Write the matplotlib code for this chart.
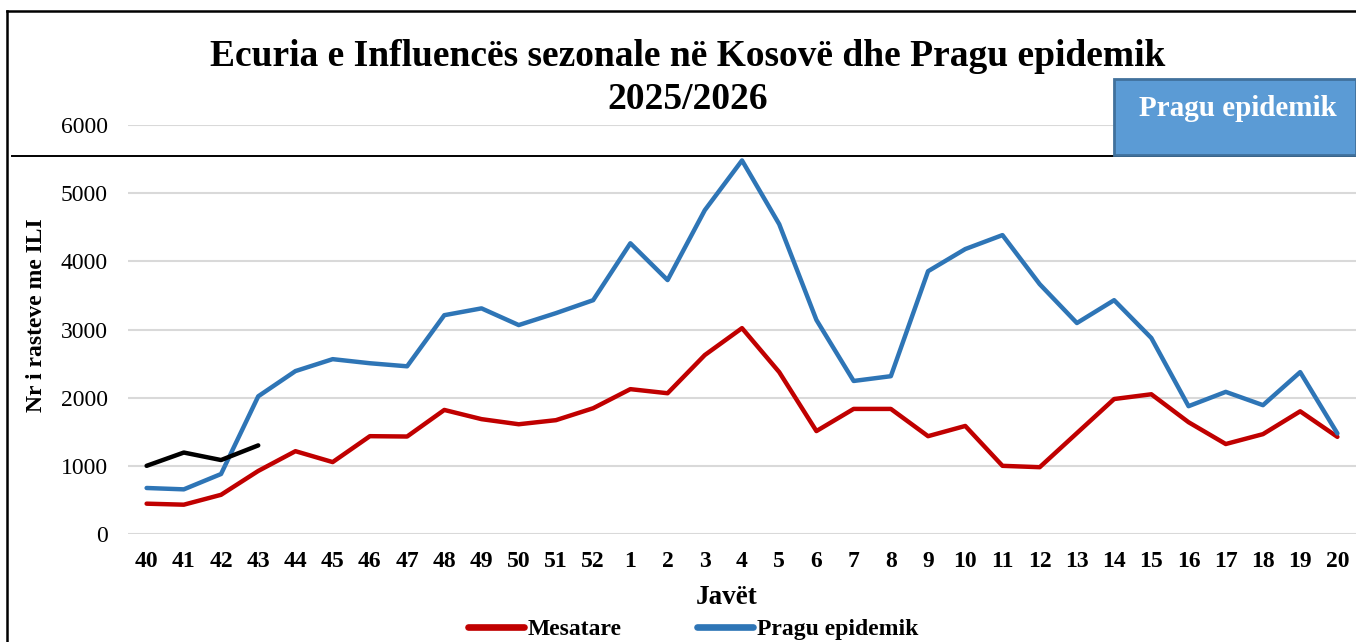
import matplotlib
matplotlib.use("Agg")
import matplotlib.pyplot as plt
from matplotlib.lines import Line2D
from matplotlib.patches import Rectangle

weeks = ["40", "41", "42", "43", "44", "45", "46", "47", "48", "49", "50", "51", "52",
         "1", "2", "3", "4", "5", "6", "7", "8", "9", "10", "11", "12", "13", "14",
         "15", "16", "17", "18", "19", "20"]
mesatare = [445, 430, 575, 925, 1215, 1055, 1435, 1430, 1820, 1685, 1610, 1670, 1845,
            2125, 2065, 2625, 3020, 2375, 1510, 1835, 1835, 1435, 1585, 1000, 980, 1480,
            1980, 2050, 1640, 1320, 1465, 1800, 1425]
pragu = [675, 655, 880, 2020, 2390, 2565, 2505, 2460, 3210, 3310, 3065, 3240, 3430,
         4265, 3725, 4750, 5480, 4545, 3140, 2245, 2315, 3855, 4180, 4385, 3665, 3095,
         3430, 2875, 1875, 2085, 1890, 2375, 1475]
current = [1000, 1195, 1085, 1300]

plt.rcParams['font.family'] = ['Liberation Serif', 'DejaVu Serif']

W, H = 1356, 642
fig = plt.figure(figsize=(W / 100, H / 100), dpi=100)
ax = fig.add_axes([128 / W, 1 - 534 / H, 1 - 128 / W, (534 - 125) / H])

x = list(range(len(weeks)))
ax.plot(x, mesatare, color="#C00000", lw=3.2, solid_capstyle="round", label="Mesatare", zorder=3)
ax.plot(x, pragu, color="#2E75B6", lw=3.2, solid_capstyle="round", label="Pragu epidemik", zorder=3)
ax.plot(x[:len(current)], current, color="black", lw=3.2, solid_capstyle="round", zorder=4)

ax.set_xlim(-0.5, len(weeks) - 0.5)
ax.set_ylim(0, 6000)
ax.set_yticks(range(0, 6001, 1000))
ax.set_xticks(x)
ax.set_xticklabels(weeks, fontsize=17, fontweight="bold")
ax.tick_params(axis="y", labelsize=17, length=0, pad=14.4)
ax.tick_params(axis="x", length=0, pad=12)
ax.grid(axis="y", color="#D9D9D9", lw=1.5)
ax.set_axisbelow(True)
for s in ax.spines.values():
    s.set_visible(False)

# axis titles placed in figure pixels
fig.text(727 / W, 1 - 597 / H, "Javët", ha="center", va="center", fontsize=19.5, fontweight="bold")
fig.text(36.5 / W, 1 - 315 / H, "Nr i rasteve me ILI", ha="center", va="center",
         rotation=90, fontsize=17, fontweight="bold")

fig.text(687.5 / W, 1 - 66 / H, "Ecuria e Influencës sezonale në Kosovë dhe Pragu epidemik",
         ha="center", va="baseline", fontsize=27, fontweight="bold")
fig.text(687.5 / W, 1 - 109 / H, "2025/2026", ha="center", va="baseline", fontsize=27, fontweight="bold")

leg = fig.legend(loc="center", bbox_to_anchor=(693 / W, 1 - 629 / H), ncol=2, frameon=False,
                 prop={"size": 17, "weight": "bold"}, handlelength=2.37, handletextpad=0.17,
                 columnspacing=3.2)
for h in leg.get_lines():
    h.set_linewidth(4.8)

# frame lines
fig.add_artist(Line2D([7 / W, 7 / W], [0, 1 - 11 / H], color="black", lw=1.8, transform=fig.transFigure))
fig.add_artist(Line2D([7 / W, 1], [1 - 11 / H, 1 - 11 / H], color="black", lw=1.8, transform=fig.transFigure))
fig.add_artist(Line2D([12 / W, 1], [1 - 156 / H, 1 - 156 / H], color="black", lw=1.4,
                      transform=fig.transFigure, zorder=5))

# box
fig.add_artist(Rectangle((1114 / W, 1 - 155 / H), (W - 1114) / W, (155 - 79) / H,
                         transform=fig.transFigure, facecolor="#5B9BD5", edgecolor="#41719C",
                         lw=2, zorder=6))
fig.text(1238 / W, 1 - 108 / H, "Pragu epidemik", ha="center", va="center", fontsize=21,
         fontweight="bold", color="white", zorder=7)

fig.savefig("out.png", dpi=100)
